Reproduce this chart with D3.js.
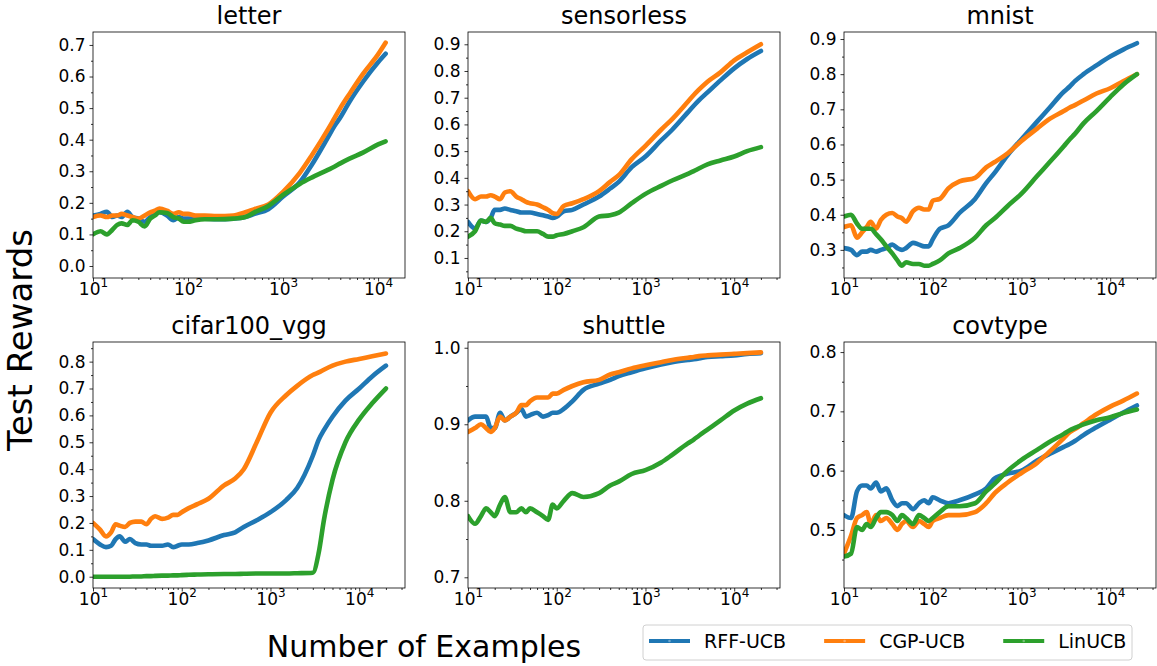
<!DOCTYPE html>
<html><head>
<meta charset="utf-8">
<title>Test Rewards vs Number of Examples</title>
<style>
body { margin: 0; background: #fff; }
svg { display: block; font-family: "DejaVu Sans", sans-serif; }
.axis text { fill: #000; }
.axis line { stroke: #000; stroke-width: 0.8px; }
.frame { fill: none; stroke: #000; stroke-width: 0.8px; }
.series { fill: none; stroke-width: 4.6px; stroke-linejoin: round; stroke-linecap: round; }
</style>
<script src="https://cdnjs.cloudflare.com/ajax/libs/d3/7.8.5/d3.min.js"></script>
</head>
<body>
<div id="chart"></div>
<script>
// ---- data ----
const methods = ["RFF-UCB", "CGP-UCB", "LinUCB"];
const colors = ["#1f77b4", "#ff7f0e", "#2ca02c"];

const xFull = [10, 12, 14, 16, 18, 20, 23, 26, 30, 35, 40, 45, 50, 60, 70, 80, 90, 100, 120, 150, 200,
  300, 400, 500, 700, 1000, 1500, 2000, 3000, 3500, 4000, 5000, 7000, 10000, 14000, 20000];
const xLetter = [10, 12, 14, 16, 18, 20, 23, 26, 30, 35, 40, 45, 50, 60, 70, 80, 90, 100, 120, 150, 200,
  300, 400, 500, 700, 1000, 1500, 2000, 3000, 3500, 4000, 5000, 7000, 10000, 12000];

const letterRFF = [.16, .165, .172, .155, .16, .155, .172, .155, .15, .14, .155, .165, .17, .16, .145, .155, .15, .15, .15, .15, .148,
  .15, .155, .165, .18, .22, .265, .32, .41, .445, .47, .52, .585, .645, .672];
const letterCGP = [.155, .16, .155, .16, .16, .165, .16, .155, .15, .16, .17, .175, .182, .175, .165, .17, .165, .165, .16, .16, .158,
  .16, .17, .18, .195, .235, .295, .35, .435, .47, .5, .545, .61, .67, .707];
const letterLin = [.10, .11, .10, .115, .13, .135, .13, .145, .14, .125, .15, .16, .17, .168, .155, .15, .14, .14, .145, .148, .148,
  .15, .155, .17, .19, .225, .26, .28, .305, .315, .325, .34, .36, .385, .395];

const sensorlessRFF = [.235, .21, .24, .235, .25, .28, .28, .285, .28, .275, .27, .27, .27, .265, .26, .255, .25, .255, .275, .28, .30,
  .33, .36, .385, .44, .48, .54, .58, .645, .67, .69, .72, .765, .81, .845, .875];
const sensorlessCGP = [.35, .32, .33, .33, .335, .33, .32, .345, .35, .33, .32, .31, .305, .30, .29, .28, .268, .265, .295, .305, .32,
  .35, .385, .41, .47, .52, .58, .62, .685, .71, .73, .76, .795, .84, .87, .90];
const sensorlessLin = [.18, .20, .24, .235, .25, .23, .225, .22, .22, .21, .205, .20, .20, .20, .19, .18, .18, .185, .19, .20, .215,
  .255, .26, .27, .305, .34, .37, .39, .415, .425, .435, .45, .465, .48, .50, .515];

const mnistRFF = [.305, .30, .285, .295, .295, .30, .295, .30, .305, .315, .305, .30, .305, .32, .315, .31, .31, .33, .36, .37, .405,
  .445, .49, .52, .57, .615, .665, .70, .75, .765, .78, .80, .825, .85, .87, .888];
const mnistCGP = [.365, .37, .335, .35, .365, .38, .36, .385, .40, .405, .395, .39, .38, .41, .42, .415, .415, .44, .445, .475, .495,
  .505, .535, .55, .575, .61, .645, .67, .695, .705, .712, .725, .745, .76, .78, .80];
const mnistLin = [.395, .40, .375, .36, .36, .36, .345, .33, .31, .29, .27, .255, .265, .26, .26, .255, .255, .26, .27, .29, .305,
  .335, .37, .39, .425, .46, .51, .545, .595, .615, .63, .66, .695, .735, .77, .80];

const cifarRFF = [.14, .12, .11, .115, .14, .15, .13, .14, .125, .12, .12, .115, .115, .115, .12, .11, .115, .12, .12, .125, .135,
  .155, .165, .185, .21, .24, .285, .33, .45, .51, .545, .595, .655, .70, .745, .785];
const cifarCGP = [.20, .175, .15, .165, .195, .19, .185, .20, .205, .205, .195, .215, .225, .215, .22, .23, .23, .24, .255, .27, .29,
  .34, .365, .40, .50, .61, .675, .71, .75, .76, .77, .785, .80, .81, .82, .83];
const cifarLin = [0, 0, 0, 0, 0, 0, 0, 0, .001, .001, .002, .002, .003, .004, .004, .005, .005, .006, .007, .008, .009,
  .01, .01, .011, .012, .012, .012, .013, .015, .09, .21, .36, .50, .585, .645, .70];

const shuttleRFF = [.905, .91, .91, .91, .895, .895, .915, .905, .91, .915, .92, .91, .912, .915, .91, .912, .915, .915, .92, .93, .945,
  .953, .958, .963, .968, .973, .978, .981, .984, .985, .986, .988, .989, .99, .992, .993];
const shuttleCGP = [.89, .895, .90, .895, .89, .895, .91, .905, .91, .915, .925, .925, .93, .935, .935, .935, .94, .94, .945, .95, .955,
  .958, .965, .968, .973, .977, .981, .984, .987, .988, .989, .99, .991, .992, .993, .994];
const shuttleLin = [.78, .77, .78, .79, .785, .78, .795, .805, .785, .785, .79, .785, .79, .785, .78, .775, .795, .79, .80, .81, .805,
  .81, .82, .825, .835, .84, .85, .86, .875, .88, .885, .893, .905, .918, .927, .934];

const covtypeRFF = [.525, .52, .565, .575, .575, .57, .58, .565, .57, .55, .54, .545, .545, .535, .545, .55, .545, .555, .55, .545, .55,
  .56, .57, .587, .595, .60, .617, .627, .64, .645, .65, .66, .673, .686, .698, .71];
const covtypeCGP = [.46, .49, .52, .525, .53, .51, .525, .515, .52, .51, .50, .51, .515, .505, .515, .51, .505, .515, .52, .525, .525,
  .53, .545, .562, .58, .596, .613, .63, .655, .665, .67, .68, .695, .708, .718, .73];
const covtypeLin = [.455, .46, .505, .50, .51, .505, .52, .53, .53, .525, .515, .525, .52, .51, .525, .52, .515, .52, .53, .54, .54,
  .545, .565, .578, .60, .618, .635, .647, .662, .668, .672, .678, .685, .69, .697, .703];

const titles = ["letter", "sensorless", "mnist", "cifar100_vgg", "shuttle", "covtype"];
const yDomains = [[-0.038, 0.741], [0.025, 0.946], [0.22, 0.92], [-0.042, 0.873], [0.686, 1.0075], [0.402, 0.817]];
const yTicks = [
  [0, .1, .2, .3, .4, .5, .6, .7],
  [.1, .2, .3, .4, .5, .6, .7, .8, .9],
  [.3, .4, .5, .6, .7, .8, .9],
  [0, .1, .2, .3, .4, .5, .6, .7, .8],
  [.7, .8, .9, 1.0],
  [.5, .6, .7, .8]
];
const xTicks = [10, 100, 1000, 10000];

const panels = [
  { x: xLetter, ys: [letterRFF, letterCGP, letterLin] },
  { x: xFull, ys: [sensorlessRFF, sensorlessCGP, sensorlessLin] },
  { x: xFull, ys: [mnistRFF, mnistCGP, mnistLin] },
  { x: xFull, ys: [cifarRFF, cifarCGP, cifarLin] },
  { x: xFull, ys: [shuttleRFF, shuttleCGP, shuttleLin] },
  { x: xFull, ys: [covtypeRFF, covtypeCGP, covtypeLin] }
];

// ---- layout ----
const W = 1157, H = 666;
const lefts = [93, 468, 844], tops = [32, 342];
const pw = 312, ph = 246;

const svg = d3.select("#chart").append("svg")
  .attr("width", W).attr("height", H);
svg.append("rect").attr("width", W).attr("height", H).attr("fill", "#fff");

panels.forEach((p, i) => {
  const left = lefts[i % 3], top = tops[Math.floor(i / 3)];
  const n = p.x[p.x.length - 1];
  // matplotlib-like 5% margin in log space on the right
  const xmax = Math.pow(10, Math.log10(n) * 1.05);
  const x = d3.scaleLog().domain([10, xmax]).range([0, pw]);
  const y = d3.scaleLinear().domain(yDomains[i]).range([ph, 0]);

  const g = svg.append("g").attr("transform", `translate(${left},${top})`);

  g.append("clipPath").attr("id", "clip" + i)
    .append("rect").attr("width", pw).attr("height", ph);

  // minor ticks
  const yt = yTicks[i];
  const step = yt[1] - yt[0];
  const yMinor = [];
  for (let v = yt[0] - step / 2; v <= yDomains[i][1]; v += step / 2) {
    if (v >= yDomains[i][0] && !yt.some(t => Math.abs(t - v) < 1e-6)) yMinor.push(v);
  }
  const xMinor = [];
  for (let e = 1; e <= 4; e++) for (let k = 2; k <= 9; k++) {
    const v = k * Math.pow(10, e);
    if (v <= xmax) xMinor.push(v);
  }

  g.append("g").attr("class", "axis")
    .call(d3.axisLeft(y).tickValues(yMinor).tickSize(2).tickSizeOuter(0).tickFormat(""))
    .call(a => a.select(".domain").remove());
  g.append("g").attr("class", "axis").attr("transform", `translate(0,${ph})`)
    .call(d3.axisBottom(x).tickValues(xMinor).tickSize(2).tickSizeOuter(0).tickFormat(""))
    .call(a => a.select(".domain").remove());

  // major y axis
  g.append("g").attr("class", "axis")
    .call(d3.axisLeft(y).tickValues(yt).tickSize(3.5).tickSizeOuter(0).tickPadding(4)
      .tickFormat(d3.format(".1f")))
    .call(a => a.select(".domain").remove())
    .call(a => a.selectAll("text").attr("font-size", 17).attr("font-family", "DejaVu Sans"));

  // major x axis with 10^k labels
  g.append("g").attr("class", "axis").attr("transform", `translate(0,${ph})`)
    .call(d3.axisBottom(x).tickValues(xTicks).tickSize(3.5).tickSizeOuter(0).tickFormat(""))
    .call(a => a.select(".domain").remove())
    .call(a => a.selectAll(".tick text").each(function (d) {
      const t = d3.select(this).attr("y", 17).attr("dy", null)
        .attr("font-size", 17).attr("font-family", "DejaVu Sans");
      t.append("tspan").text("10");
      t.append("tspan").attr("font-size", 12).attr("dy", -8).text(Math.round(Math.log10(d)));
    }));

  // series
  const line = d3.line().curve(d3.curveMonotoneX)
    .x((d, j) => x(p.x[j])).y(d => y(d));
  const lines = g.append("g").attr("clip-path", `url(#clip${i})`);
  p.ys.forEach((vals, k) => {
    lines.append("path").attr("class", "series")
      .attr("stroke", colors[k])
      .attr("d", line(vals));
  });

  g.append("rect").attr("class", "frame").attr("width", pw).attr("height", ph);

  g.append("text").attr("x", pw / 2).attr("y", -8)
    .attr("text-anchor", "middle").attr("font-size", 24).attr("fill", "#000")
    .text(titles[i]);
});

// axis labels
svg.append("text").attr("transform", "translate(32,340) rotate(-90)")
  .attr("text-anchor", "middle").attr("font-size", 34).attr("fill", "#000")
  .text("Test Rewards");
svg.append("text").attr("x", 424).attr("y", 657)
  .attr("text-anchor", "middle").attr("font-size", 30).attr("fill", "#000")
  .text("Number of Examples");

// legend
const fs = 19;
const legend = svg.append("g").attr("transform", "translate(643,625)");
legend.append("rect").attr("width", 489).attr("height", 35).attr("rx", 3)
  .attr("fill", "#fff").attr("stroke", "#d0d0d0").attr("stroke-width", 1);
let cx = 6;
methods.forEach((m, k) => {
  const it = legend.append("g");
  it.append("line").attr("x1", cx).attr("x2", cx + 41).attr("y1", 16).attr("y2", 16)
    .attr("stroke", colors[k]).attr("stroke-width", 4);
  it.append("circle").attr("cx", cx + 20.5).attr("cy", 16).attr("r", 1.3)
    .attr("fill", "#fff").attr("opacity", 0.35);
  const t = it.append("text").attr("x", cx + 41 + 14).attr("y", 22.5)
    .attr("font-size", fs).attr("fill", "#000").text(m);
  cx += 41 + 14 + t.node().getComputedTextLength() + 38;
});
</script>
</body>
</html>
